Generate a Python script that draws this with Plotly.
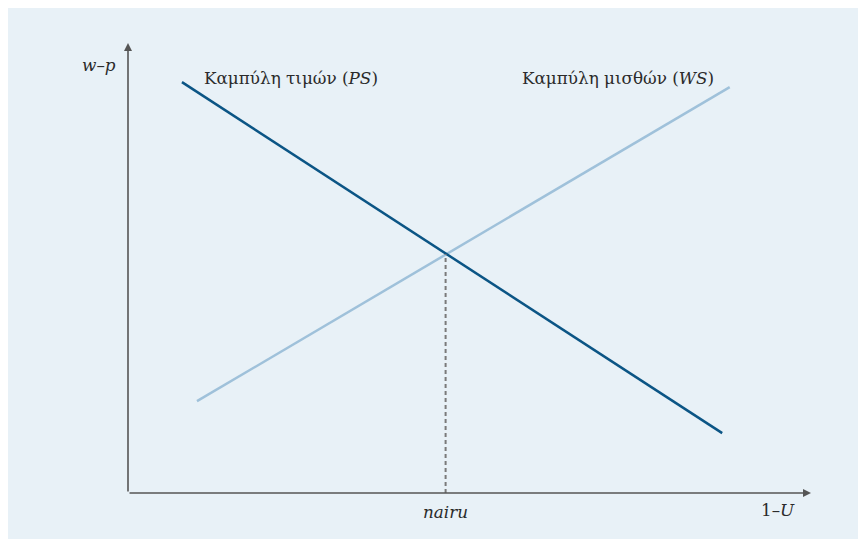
import plotly.graph_objects as go

# Data (arbitrary units)
ps_x = [0.79, 8.70]
ps_y = [9.13, 1.33]
ws_x = [1.01, 8.81]
ws_y = [2.04, 9.02]
nairu_x = 4.65
nairu_y = 5.31
x_max = 10
y_max = 10

font_family = "DejaVu Serif"
text_color = "#2b2b2b"
axis_color = "#555555"

fig = go.Figure()

fig.add_trace(go.Scatter(x=ws_x, y=ws_y, mode="lines",
                         line=dict(color="#9fc1da", width=2.5), hoverinfo="skip"))
fig.add_trace(go.Scatter(x=ps_x, y=ps_y, mode="lines",
                         line=dict(color="#0b5585", width=2.5), hoverinfo="skip"))
fig.add_trace(go.Scatter(x=[nairu_x, nairu_x], y=[0, nairu_y], mode="lines",
                         line=dict(color="#7a7a7a", width=2, dash="4px,3px"), hoverinfo="skip"))

W, H = 858, 536
L, R, T, B = 120, 55, 35, 51

# axes with arrows
fig.add_annotation(x=0, y=y_max, ax=0, ay=0, xref="x", yref="y", axref="x", ayref="y",
                   showarrow=True, arrowhead=2, arrowsize=1, arrowwidth=1.6,
                   arrowcolor=axis_color, text="")
fig.add_annotation(x=x_max, y=0, ax=0, ay=0, xref="x", yref="y", axref="x", ayref="y",
                   showarrow=True, arrowhead=2, arrowsize=1, arrowwidth=1.6,
                   arrowcolor=axis_color, text="")

fs = 16.8
def label(x, y, text, xanchor):
    # positions given in data units, converted to paper fractions so labels
    # outside the axis ranges are still drawn
    fig.add_annotation(x=x / x_max, y=y / y_max, xref="paper", yref="paper",
                       text=text, showarrow=False,
                       xanchor=xanchor, yanchor="middle",
                       font=dict(family=font_family, size=fs, color=text_color))

label(-0.15, 9.51, "<i>w</i>–<i>p</i>", "right")
label(1.08, 9.22, "Καμπύλη τιμών (<i>PS</i>)", "left")
label(5.74, 9.22, "Καμπύλη μισθών (<i>WS</i>)", "left")
label(nairu_x, -0.42, "<i>nairu</i>", "center")
label(9.52, -0.38, "1–<i>U</i>", "center")

fig.update_layout(
    width=W, height=H,
    margin=dict(l=L, r=R, t=T, b=B),
    paper_bgcolor="#e8f1f7", plot_bgcolor="rgba(0,0,0,0)",
    showlegend=False,
    xaxis=dict(range=[0, x_max], visible=False, fixedrange=True),
    yaxis=dict(range=[0, y_max], visible=False, fixedrange=True),
)

fig.write_html("out.html")
